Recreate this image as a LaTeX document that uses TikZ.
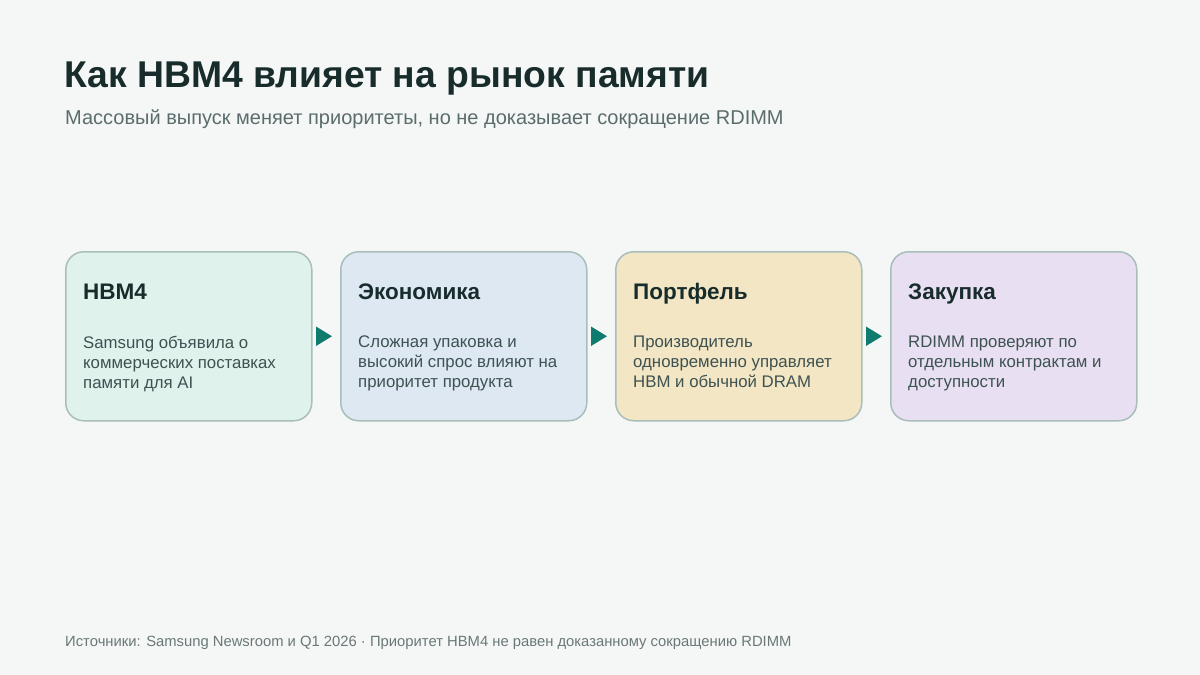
\documentclass[tikz,border=0pt]{standalone}
\usepackage{fontspec}
\setmainfont{Liberation Sans}
\usetikzlibrary{arrows.meta}
\definecolor{bg}{HTML}{F5F7F6}
\definecolor{titlec}{HTML}{182C2C}
\definecolor{subc}{HTML}{5A6C6C}
\definecolor{bodyc}{HTML}{3E5252}
\definecolor{footc}{HTML}{6A7878}
\definecolor{edgec}{HTML}{A9BDBA}
\definecolor{teal}{HTML}{0F7A6E}
\definecolor{fgreen}{HTML}{DFF2EC}
\definecolor{fblue}{HTML}{DDE8F3}
\definecolor{fyellow}{HTML}{F3E6C4}
\definecolor{fpurple}{HTML}{E8E0F2}
\tikzset{
  card/.style={draw=edgec, line width=1.5pt, rounded corners=18pt, minimum width=246pt, minimum height=169pt, anchor=north west, inner sep=0pt},
  cardtitle/.style={anchor=base west, inner sep=0pt, font=\fontsize{22.5}{26}\selectfont\bfseries, text=titlec},
  cardbody/.style={anchor=north west, inner sep=0pt, align=left, font=\fontsize{16.8}{20}\selectfont, text=bodyc},
  flow/.style={draw=teal, line width=2pt, -{Triangle[length=16pt,width=19pt]}, shorten <=5pt, shorten >=8pt}
}
\begin{document}
\begin{tikzpicture}[x=1pt,y=-1pt]
\fill[bg] (0,0) rectangle (1200,675);
\useasboundingbox (0,0) rectangle (1200,675);
\node[anchor=base west, inner sep=0pt, text=titlec, font=\fontsize{37.3}{44}\selectfont\bfseries] (title) at (64,87) {Как HBM4 влияет на рынок памяти};
\node[anchor=base west, inner sep=0pt, text=subc, font=\fontsize{20}{24}\selectfont] (sub) at (65,124) {Массовый выпуск меняет приоритеты, но не доказывает сокращение RDIMM};

\node[card, fill=fgreen] (b1) at (65,251) {};
\node[card, fill=fblue] (b2) at (340,251) {};
\node[card, fill=fyellow] (b3) at (615,251) {};
\node[card, fill=fpurple] (b4) at (890,251) {};

\node[cardtitle] (t1) at (83,299) {HBM4};
\node[cardtitle] (t2) at (358,299) {Экономика};
\node[cardtitle] (t3) at (633,299) {Портфель};
\node[cardtitle] (t4) at (908,299) {Закупка};

\node[cardbody] (d1) at (83,336) {Samsung объявила о\\коммерческих поставках\\памяти для AI};
\node[cardbody] (d2) at (358,336) {Сложная упаковка и\\высокий спрос влияют на\\приоритет продукта};
\node[cardbody] (d3) at (633,336) {Производитель\\одновременно управляет\\HBM и обычной DRAM};
\node[cardbody] (d4) at (908,336) {RDIMM проверяют по\\отдельным контрактам и\\доступности};

\draw[flow] (b1.east) -- (b2.west);
\draw[flow] (b2.east) -- (b3.west);
\draw[flow] (b3.east) -- (b4.west);

\node[anchor=base west, inner sep=0pt, text=footc, font=\fontsize{14.8}{17}\selectfont] (foot) at (65,646) {Источники: Samsung Newsroom и Q1 2026 · Приоритет HBM4 не равен доказанному сокращению RDIMM};
\end{tikzpicture}
\end{document}
